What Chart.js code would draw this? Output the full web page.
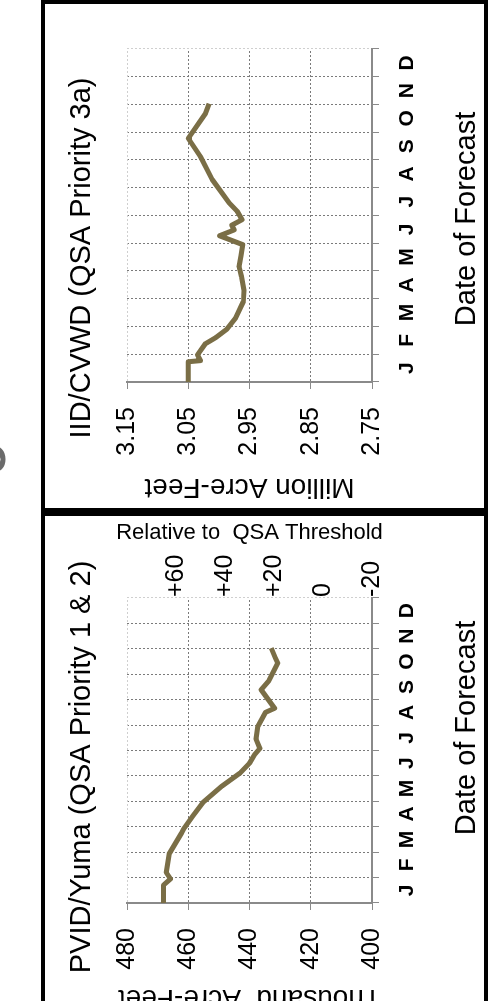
<!DOCTYPE html>
<html>
<head>
<meta charset="utf-8">
<script src="https://cdn.jsdelivr.net/npm/chart.js@4.4.1/dist/chart.umd.min.js"></script>
<style>
  html, body { margin: 0; padding: 0; background: #fff; overflow: hidden; }
  body { width: 488px; height: 1001px; position: relative; }
  /* the chart is laid out landscape and turned a quarter turn to the left */
  #stage { position: absolute; left: 0; top: 0; width: 1001px; height: 488px;
           transform-origin: 0 0; transform: translateY(1001px) rotate(-90deg); }
  .panel { position: absolute; top: 41px; height: 447px; box-sizing: border-box;
           border: 4px solid #000; background: #fff; }
  #panelLeft { left: -20px; width: 509px; }
  #panelRight { left: 489px; width: 512px; }
  .panel canvas { position: absolute; left: 0; top: 0; }
  #stray { position: absolute; left: 526px; top: -43px; line-height: 1;
           font: bold 52px "Liberation Sans", Arial, sans-serif; color: #6b6b6b; }
</style>
</head>
<body>
<div id="stage">
  <span id="stray">o</span>
  <div class="panel" id="panelLeft"><canvas id="pvid" width="501" height="439"></canvas></div>
  <div class="panel" id="panelRight"><canvas id="iid" width="504" height="439"></canvas></div>
</div>
<script>
"use strict";

const MONTHS = ["J", "F", "M", "A", "M", "J", "J", "A", "S", "O", "N", "D"];

// PVID/Yuma, month position (0 = start of Jan) and thousand acre-feet
const pvidMonth = [0, 0.7, 0.95, 1.2, 1.94, 2.75, 2.92, 3.42, 3.98, 4.6, 5.12, 5.5,
                   5.84, 6.08, 6.45, 6.94, 7.5, 7.66, 8.39, 8.72, 9.44, 9.65, 10.03];
const pvidValue = [468.1, 468.1, 465.8, 467.2, 466.2, 462.2, 461.5, 458.5, 455.0, 449.0, 443.0, 440.0,
                   438.3, 436.6, 437.9, 437.3, 434.8, 431.8, 436.2, 433.8, 430.8, 431.6, 432.9];
const pvidTicks = [400, 420, 440, 460, 480];
const qsaTicks = [-20, 0, 20, 40, 60];
const qsaLabels = ["-20", "0", "+20", "+40", "+60"];

// IID/CVWD, million acre-feet
const iidMonth = [0, 0.73, 0.77, 0.98, 1.38, 1.6, 1.9, 2.3, 2.9, 3.3, 3.8, 4.15, 4.55,
                  4.95, 5.27, 5.48, 5.65, 5.85, 6.15, 6.45, 7.3, 8.12, 8.78, 9.67, 10.03];
const iidValue = [3.050, 3.050, 3.030, 3.035, 3.022, 3.005, 2.987, 2.973, 2.960, 2.959, 2.963, 2.967, 2.964,
                  2.961, 2.999, 2.975, 2.979, 2.962, 2.970, 2.983, 3.011, 3.030, 3.050, 3.022, 3.016];
const iidTicks = [2.75, 2.85, 2.95, 3.05, 3.15];

const FONT = "'Liberation Sans', Arial, sans-serif";
const LINE = "#7a6e46";
const GRID = "#7a7a7a";
const AXIS = "#8a8a8a";
const EDGE = "#cfcfcf";

const captions = {
    id: "captions",
    afterDraw: function (chart, args, opts) {
        const ctx = chart.ctx;
        ctx.save();
        ctx.fillStyle = "#000";
        ctx.textAlign = "center";
        ctx.textBaseline = "alphabetic";
        opts.items.forEach(function (t) {
            ctx.font = t.size + "px " + FONT;
            ctx.fillText(t.text, t.x, t.y);
        });
        ctx.restore();
    },
};

function buildPanel(id, cfg) {
    const top = cfg.ticks[cfg.ticks.length - 1];
    const scales = {
        x: {
            type: "category",
            labels: MONTHS,
            offset: true,
            grid: {offset: true, color: (c) => (c.tick ? GRID : EDGE), tickColor: AXIS, tickLength: 7},
            border: {color: AXIS, width: 2, dash: [2, 2]},
            ticks: {color: "#000", font: {family: FONT, size: 21, weight: "bold"}, padding: 16,
                    maxRotation: 0, autoSkip: false},
            afterFit: (s) => { s.height = 112; },
        },
        xd: {type: "linear", display: false, min: 0, max: 12},
        y: {
            position: "left",
            min: cfg.ticks[0],
            max: top,
            afterBuildTicks: (s) => { s.ticks = cfg.ticks.map((v) => ({value: v})); },
            grid: {
                color: (c) => (c.tick && c.tick.value === top ? EDGE : GRID),
                tickColor: AXIS,
                tickLength: 7,
            },
            border: {color: AXIS, width: 2, dash: [2, 2]},
            ticks: {color: "#000", font: {family: FONT, size: 25}, padding: 18, callback: cfg.format},
            title: {
                display: true, text: cfg.unit, color: "#000",
                font: {family: FONT, size: 28}, padding: {top: cfg.unitPad, bottom: 0},
            },
            afterFit: (s) => { s.width = cfg.yWidth; },
        },
    };
    if (cfg.right) {
        scales.y2 = cfg.right;
    }

    return new Chart(document.getElementById(id).getContext("2d"), {
        type: "line",
        data: {
            datasets: [{
                data: cfg.month.map((m, i) => ({x: m, y: cfg.value[i]})),
                xAxisID: "xd",
                yAxisID: "y",
                borderColor: LINE,
                borderWidth: 5,
                borderJoinStyle: "round",
                pointRadius: 0,
                tension: 0,
                fill: false,
            }],
        },
        options: {
            responsive: false,
            animation: false,
            events: [],
            layout: {padding: {left: 0, right: cfg.padRight, top: 82, bottom: 0}},
            scales: scales,
            plugins: {
                legend: {display: false},
                tooltip: {enabled: false},
                captions: {items: [
                    {text: cfg.title, x: 250, y: 45, size: 29},
                    {text: "Date of Forecast", x: 289, y: 430, size: 29},
                ]},
            },
        },
        plugins: [captions],
    });
}

buildPanel("pvid", {
    title: "PVID/Yuma (QSA Priority 1 & 2)",
    unit: "Thousand  Acre-Feet",
    unitPad: 2,
    month: pvidMonth,
    value: pvidValue,
    ticks: pvidTicks,
    format: (v) => String(v),
    yWidth: 114,
    padRight: 4,
    right: {
        position: "right",
        min: -20,
        max: 80,
        afterBuildTicks: (s) => { s.ticks = qsaTicks.map((v) => ({value: v})); },
        grid: {drawOnChartArea: false, drawTicks: false},
        border: {display: false},
        ticks: {color: "#000", font: {family: FONT, size: 25}, padding: 1,
                callback: (v) => qsaLabels[qsaTicks.indexOf(v)]},
        title: {display: true, text: "Relative to  QSA Threshold", color: "#000",
                font: {family: FONT, size: 22}, padding: 0},
        afterFit: (s) => { s.width = 78; },
    },
});

buildPanel("iid", {
    title: "IID/CVWD (QSA Priority 3a)",
    unit: "Million Acre-Feet",
    unitPad: 4,
    month: iidMonth,
    value: iidValue,
    ticks: iidTicks,
    format: (v) => v.toFixed(2),
    yWidth: 126,
    padRight: 45,
});
</script>
</body>
</html>
